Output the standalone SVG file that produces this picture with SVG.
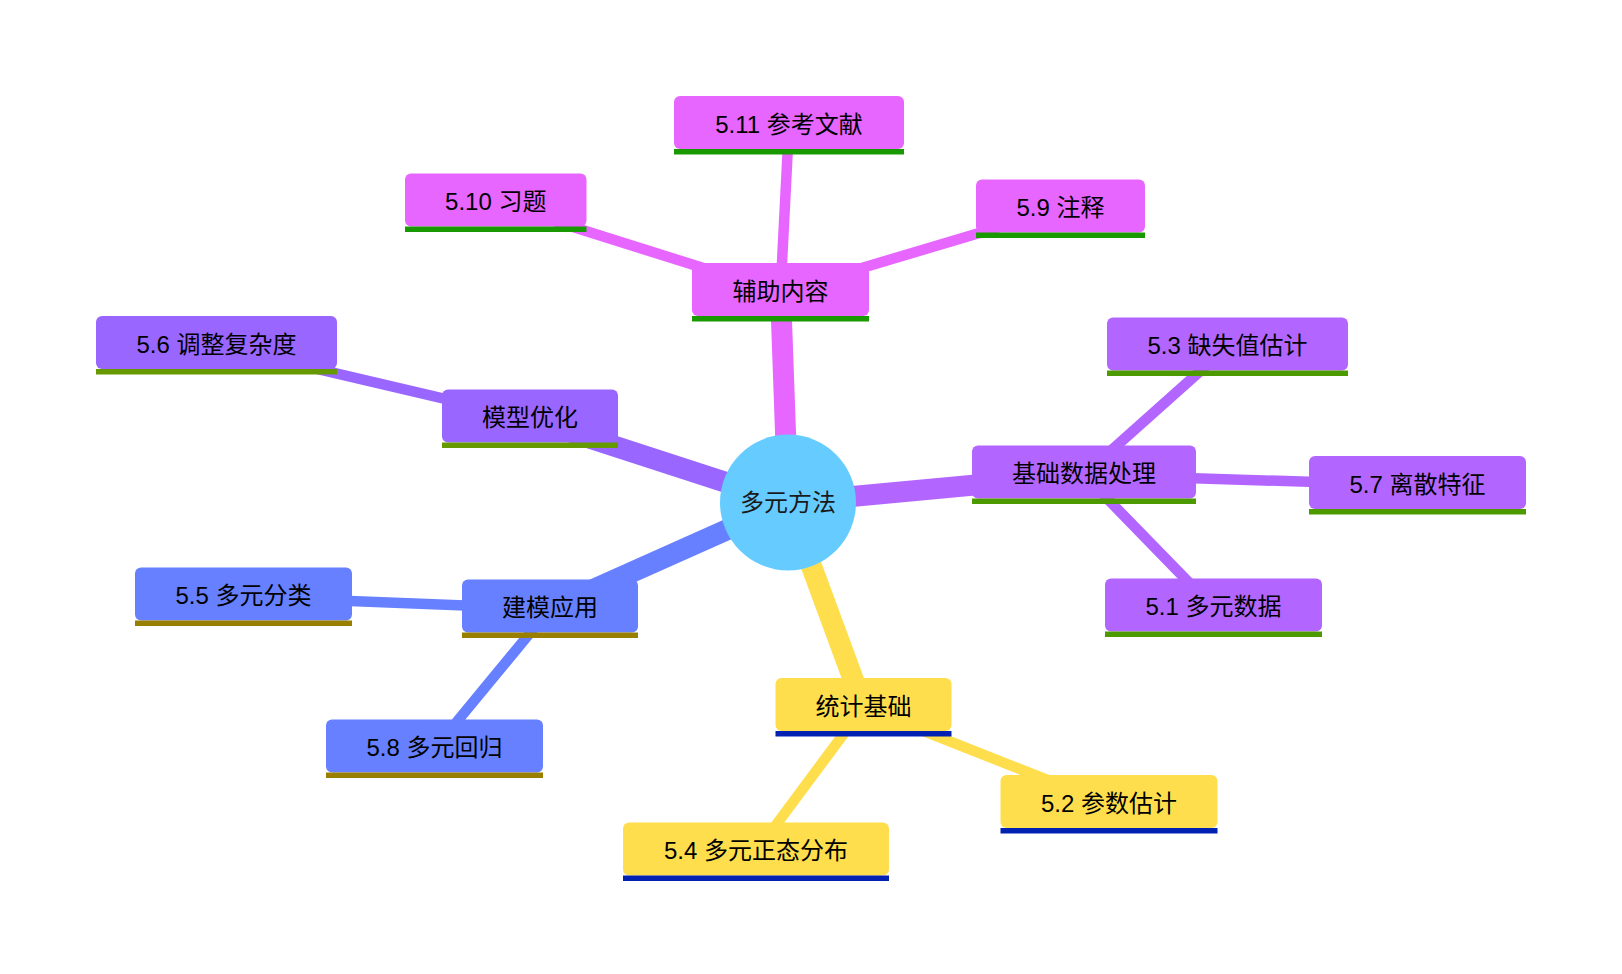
<svg xmlns="http://www.w3.org/2000/svg" width="1622" height="974" viewBox="0 0 1622 974">
<style>
text{font-family:"Trebuchet MS","Liberation Sans","Noto Sans CJK SC",sans-serif;font-size:24px;fill:#000;text-anchor:middle;dominant-baseline:central}
.e0{stroke-width:21;fill:none;stroke-linecap:butt}
.e1{stroke-width:10.5;fill:none;stroke-linecap:butt}
.pk{fill:#e666ff}.pkl{fill:#199900}.pke{stroke:#e666ff}
.pu{fill:#b366ff}.pul{fill:#4c9900}.pue{stroke:#b366ff}
.vi{fill:#9966ff}.vil{fill:#669900}.vie{stroke:#9966ff}
.bl{fill:#6680ff}.bll{fill:#997f00}.ble{stroke:#6680ff}
.ye{fill:#ffde4d}.yel{fill:#0021b2}.yee{stroke:#ffde4d}
</style>
<rect width="1622" height="974" fill="#fff"/>
<g id="connectors">
<line class="e0 pke" x1="788" y1="502.5" x2="780.5" y2="292.25"/>
<line class="e0 pue" x1="788" y1="502.5" x2="1084" y2="474.75"/>
<line class="e0 vie" x1="788" y1="502.5" x2="530" y2="418.75"/>
<line class="e0 ble" x1="788" y1="502.5" x2="550" y2="608.75"/>
<line class="e0 yee" x1="788" y1="502.5" x2="863.5" y2="707.25"/>
<line class="e1 pke" x1="780.5" y1="292.25" x2="789" y2="125.25"/>
<line class="e1 pke" x1="780.5" y1="292.25" x2="495.75" y2="202.75"/>
<line class="e1 pke" x1="780.5" y1="292.25" x2="1060.5" y2="208.75"/>
<line class="e1 pue" x1="1084" y1="474.75" x2="1227.5" y2="346.75"/>
<line class="e1 pue" x1="1084" y1="474.75" x2="1417.5" y2="485.25"/>
<line class="e1 pue" x1="1084" y1="474.75" x2="1213.5" y2="607.75"/>
<line class="e1 vie" x1="530" y1="418.75" x2="216.5" y2="345.25"/>
<line class="e1 ble" x1="550" y1="608.75" x2="243.5" y2="596.75"/>
<line class="e1 ble" x1="550" y1="608.75" x2="434.5" y2="748.75"/>
<line class="e1 yee" x1="863.5" y1="707.25" x2="1109" y2="804.25"/>
<line class="e1 yee" x1="863.5" y1="707.25" x2="756" y2="851.75"/>
</g>
<g id="root">
<circle cx="788" cy="502.5" r="68" fill="#66ccff"/>
<text x="788" y="502.5" style="fill:#1a1a1a">多元方法</text>
</g>
<g id="n-aux"><rect class="pk" x="692" y="263" width="177" height="53" rx="6"/><rect class="pkl" x="692" y="316" width="177" height="5.5"/><text x="780.5" y="291">辅助内容</text></g>
<g id="n-511"><rect class="pk" x="674" y="96" width="230" height="53" rx="6"/><rect class="pkl" x="674" y="149" width="230" height="5.5"/><text x="789" y="124">5.11 参考文献</text></g>
<g id="n-510"><rect class="pk" x="405" y="173.5" width="181.5" height="53" rx="6"/><rect class="pkl" x="405" y="226.5" width="181.5" height="5.5"/><text x="495.75" y="201.5">5.10 习题</text></g>
<g id="n-59"><rect class="pk" x="976" y="179.5" width="169" height="53" rx="6"/><rect class="pkl" x="976" y="232.5" width="169" height="5.5"/><text x="1060.5" y="207.5">5.9 注释</text></g>
<g id="n-base"><rect class="pu" x="972" y="445.5" width="224" height="53" rx="6"/><rect class="pul" x="972" y="498.5" width="224" height="5.5"/><text x="1084" y="473.5">基础数据处理</text></g>
<g id="n-53"><rect class="pu" x="1107" y="317.5" width="241" height="53" rx="6"/><rect class="pul" x="1107" y="370.5" width="241" height="5.5"/><text x="1227.5" y="345.5">5.3 缺失值估计</text></g>
<g id="n-57"><rect class="pu" x="1309" y="456" width="217" height="53" rx="6"/><rect class="pul" x="1309" y="509" width="217" height="5.5"/><text x="1417.5" y="484">5.7 离散特征</text></g>
<g id="n-51"><rect class="pu" x="1105" y="578.5" width="217" height="53" rx="6"/><rect class="pul" x="1105" y="631.5" width="217" height="5.5"/><text x="1213.5" y="606.5">5.1 多元数据</text></g>
<g id="n-opt"><rect class="vi" x="442" y="389.5" width="176" height="53" rx="6"/><rect class="vil" x="442" y="442.5" width="176" height="5.5"/><text x="530" y="417.5">模型优化</text></g>
<g id="n-56"><rect class="vi" x="96" y="316" width="241" height="53" rx="6"/><rect class="vil" x="96" y="369" width="241" height="5.5"/><text x="216.5" y="344">5.6 调整复杂度</text></g>
<g id="n-app"><rect class="bl" x="462" y="579.5" width="176" height="53" rx="6"/><rect class="bll" x="462" y="632.5" width="176" height="5.5"/><text x="550" y="607.5">建模应用</text></g>
<g id="n-55"><rect class="bl" x="135" y="567.5" width="217" height="53" rx="6"/><rect class="bll" x="135" y="620.5" width="217" height="5.5"/><text x="243.5" y="595.5">5.5 多元分类</text></g>
<g id="n-58"><rect class="bl" x="326" y="719.5" width="217" height="53" rx="6"/><rect class="bll" x="326" y="772.5" width="217" height="5.5"/><text x="434.5" y="747.5">5.8 多元回归</text></g>
<g id="n-stat"><rect class="ye" x="775.5" y="678" width="176" height="53" rx="6"/><rect class="yel" x="775.5" y="731" width="176" height="5.5"/><text x="863.5" y="706">统计基础</text></g>
<g id="n-52"><rect class="ye" x="1000.5" y="775" width="217" height="53" rx="6"/><rect class="yel" x="1000.5" y="828" width="217" height="5.5"/><text x="1109" y="803">5.2 参数估计</text></g>
<g id="n-54"><rect class="ye" x="623" y="822.5" width="266" height="53" rx="6"/><rect class="yel" x="623" y="875.5" width="266" height="5.5"/><text x="756" y="850.5">5.4 多元正态分布</text></g>
</svg>
